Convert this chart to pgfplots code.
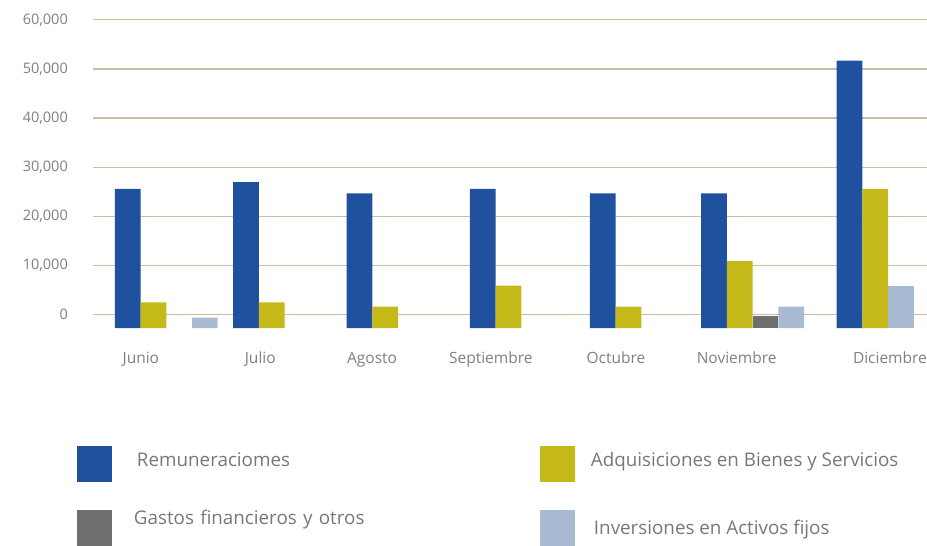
\documentclass[border=0pt]{standalone}
\usepackage{fontspec}
\setmainfont{Open Sans}
\usepackage{pgfplots}
\pgfplotsset{compat=1.18}
\definecolor{remblue}{HTML}{1F519E}
\definecolor{adqyellow}{HTML}{C5B919}
\definecolor{gasgray}{HTML}{6E6E6E}
\definecolor{invblue}{HTML}{A9BBD3}
\definecolor{gridtan}{HTML}{CBBDA2}
\definecolor{tickgray}{HTML}{7F7F7F}
\definecolor{leggray}{HTML}{777777}

% bars in the original start below the 0 gridline, at about -2705
\newcommand\shiftby[2]{%
  \begingroup
  \pgfkeys{/pgf/fpu=true,/pgf/fpu/output format=fixed}%
  \pgfmathparse{#1+#2}%
  \global\let\shiftresult\pgfmathresult
  \endgroup
  \let\pgfmathresult\shiftresult}

\begin{document}
\begin{tikzpicture}[x=1pt,y=1pt]
\useasboundingbox (0,0) rectangle (927,-546);
\begin{axis}[
  at={(93pt,-328pt)}, anchor=south west,
  scale only axis,
  width=834pt, height=308.3pt,
  xmin=-0.611, xmax=6.339,
  ymin=-2705, ymax=60000,
  y coord trafo/.code={\shiftby{#1}{2705}},
  y coord inv trafo/.code={\shiftby{#1}{-2705}},
  scaled y ticks=false,
  axis line style={draw=none},
  major tick length=0pt,
  ymajorgrids=true,
  grid style={gridtan, line width=1.4pt},
  ytick={0,10000,20000,30000,40000,50000,60000},
  yticklabels={0,{10,000},{20,000},{30,000},{40,000},{50,000},{60,000}},
  yticklabel style={font=\fontsize{14.5}{16}\selectfont, text=tickgray, inner sep=0pt, xshift=-25pt},
  xtick={-0.212,0.783,1.715,2.704,3.747,4.753,6.03},
  xticklabels={Junio,Julio,Agosto,Septiembre,Octubre,Noviembre,Diciembre},
  xticklabel style={font=\fontsize{15.5}{18}\selectfont, text=tickgray, inner sep=0pt, yshift=-24pt},
  ybar, bar width=25.7pt,
  legend columns=2,
  legend cell align=left,
  legend image code/.code={\fill[#1] (0pt,-22pt) rectangle (35pt,14pt); \path (0pt,20pt) (51pt,-22pt);},
  legend style={at={(rel axis cs:-0.0192,-0.3633)}, anchor=north west,
    draw=none, fill=none, inner sep=0pt, outer sep=0pt,
    column sep=0pt, row sep=22pt,
    font=\fontsize{18.8}{22}\selectfont, text=leggray,
    nodes={inner sep=0pt},
    /tikz/column 2/.style={text width=412pt}},
]
\addplot[fill=remblue, draw=none, bar shift=-38.55pt] coordinates {
  (0,25570) (0.986,26990) (1.931,24690) (2.958,25570) (3.958,24690) (4.886,24690) (6.015,51660)};
\addlegendentry{\hspace*{9pt}Remuneraciomes}
\addplot[fill=adqyellow, draw=none, bar shift=-12.85pt] coordinates {
  (0,2520) (0.986,2520) (1.931,1630) (2.958,5900) (3.958,1630) (4.886,10920) (6.015,25570)};
\addlegendentry{Adquisiciones en Bienes y Servicios}
\addplot[fill=gasgray, draw=none, bar shift=12.85pt] coordinates {(4.886,-260)};
\addlegendentry[yshift=6pt]{\hspace*{6pt}Gastos financieros y otros}
\addplot[fill=invblue, draw=none, bar shift=38.55pt] coordinates {(0,-610) (4.886,1630)};
\addlegendentry[yshift=-4.5pt]{\hspace*{3pt}Inversiones en Activos fijos}
\addplot[fill=invblue, draw=none, bar shift=12.85pt, forget plot] coordinates {(6.015,5900)};
\end{axis}
\end{tikzpicture}
\end{document}
